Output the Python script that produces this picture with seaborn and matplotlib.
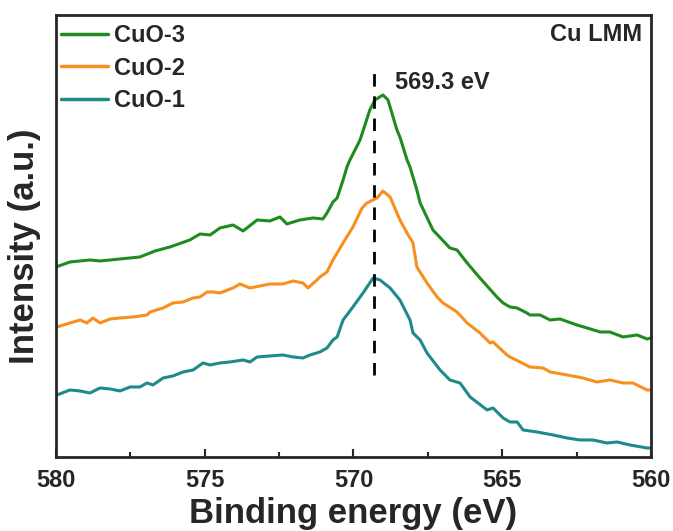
import pandas as pd
import seaborn as sns
import matplotlib.pyplot as plt
from matplotlib.ticker import MultipleLocator

# Cu LMM Auger spectra (binding energy in eV, intensity in a.u.)
energy_cuo3 = [580.00, 579.53, 578.86, 578.52, 578.18, 577.85, 577.51, 577.18, 576.67, 576.17,
               575.50, 575.16, 574.82, 574.49, 574.05, 573.71, 573.24, 572.81, 572.47, 572.24,
               571.80, 571.36, 571.03, 570.89, 570.69, 570.55, 570.35, 570.22, 570.12, 569.78,
               569.45, 569.28, 569.01, 568.84, 568.54, 568.44, 568.20, 568.10, 567.87, 567.76,
               567.33, 566.76, 566.52, 566.18, 565.75, 565.18, 564.97, 564.74, 564.50, 564.17,
               564.07, 563.73, 563.39, 563.06, 562.49, 562.15, 561.71, 561.38, 560.94, 560.47,
               560.13, 560.00]
int_cuo3 = [190, 195, 197, 196, 197, 198, 199, 200, 206, 210,
            217, 223, 222, 229, 232, 226, 237, 236, 240, 233,
            237, 239, 238, 244, 255, 259, 277, 290, 297, 317,
            347, 357, 362, 357, 327, 320, 297, 290, 267, 254,
            227, 209, 207, 194, 179, 160, 154, 150, 149, 144,
            142, 142, 137, 138, 132, 129, 125, 125, 120, 122,
            118, 119]

energy_cuo2 = [579.97, 579.53, 579.19, 578.96, 578.76, 578.52, 578.18, 577.85, 577.41, 576.94,
               576.84, 576.40, 576.07, 575.73, 575.39, 575.16, 574.92, 574.72, 574.49, 574.05,
               573.82, 573.48, 573.14, 572.81, 572.37, 572.03, 571.70, 571.53, 571.23, 571.13,
               570.89, 570.69, 570.35, 570.02, 569.71, 569.55, 569.21, 569.01, 568.77, 568.54,
               568.44, 568.20, 568.00, 567.87, 567.53, 567.19, 566.99, 566.52, 566.18, 565.75,
               565.41, 565.31, 564.84, 564.74, 564.40, 564.07, 563.63, 563.39, 562.82, 562.29,
               561.82, 561.38, 560.94, 560.61, 560.13, 560.00]
int_cuo2 = [130, 134, 137, 134, 139, 134, 138, 139, 140, 142,
            145, 149, 154, 155, 159, 160, 165, 165, 164, 169,
            173, 169, 171, 173, 173, 176, 174, 169, 177, 180,
            185, 197, 214, 230, 249, 254, 259, 266, 260, 244,
            237, 224, 214, 190, 174, 160, 154, 145, 134, 124,
            114, 115, 102, 100, 95, 90, 89, 85, 82, 79,
            75, 77, 74, 74, 67, 67]

energy_cuo1 = [579.97, 579.53, 579.19, 578.86, 578.52, 578.18, 577.85, 577.51, 577.18, 576.94,
               576.74, 576.40, 576.07, 575.73, 575.39, 575.06, 574.82, 574.49, 574.15, 573.71,
               573.48, 573.24, 572.81, 572.37, 572.03, 571.70, 571.46, 571.13, 570.89, 570.69,
               570.55, 570.35, 570.02, 569.68, 569.34, 569.11, 568.77, 568.44, 568.10, 568.00,
               567.76, 567.53, 567.09, 566.76, 566.42, 566.08, 565.51, 565.31, 564.97, 564.74,
               564.50, 564.30, 563.83, 563.29, 562.82, 562.39, 561.95, 561.48, 561.14, 560.71,
               560.13, 560.00]
int_cuo1 = [62, 67, 66, 64, 69, 68, 66, 70, 70, 74,
            72, 79, 81, 85, 87, 94, 92, 94, 95, 97,
            95, 100, 101, 102, 100, 99, 102, 105, 109, 117,
            120, 137, 150, 164, 179, 177, 169, 157, 137, 124,
            117, 104, 87, 77, 74, 60, 47, 49, 39, 35,
            35, 27, 25, 22, 19, 17, 17, 14, 15, 12,
            9, 9]

labels = ['CuO-3', 'CuO-2', 'CuO-1']
colors = ['#1e8c1e', '#f7901e', '#1f8a8a']
peak_ev = 569.3

df = pd.concat([
    pd.DataFrame({'energy': energy_cuo3, 'intensity': int_cuo3, 'sample': 'CuO-3'}),
    pd.DataFrame({'energy': energy_cuo2, 'intensity': int_cuo2, 'sample': 'CuO-2'}),
    pd.DataFrame({'energy': energy_cuo1, 'intensity': int_cuo1, 'sample': 'CuO-1'}),
])

sns.set_style('ticks')
plt.rcParams['font.family'] = ['Liberation Sans', 'DejaVu Sans']
plt.rcParams['font.weight'] = 'bold'

fig = plt.figure(figsize=(6.73, 5.31), dpi=100)
ax = fig.add_axes([0.0832, 0.1394, 0.8841, 0.8324])

sns.lineplot(data=df, x='energy', y='intensity', hue='sample', hue_order=labels,
             palette=colors, linewidth=2.2, ax=ax, legend=True)

# dashed marker at the peak position
ax.plot([peak_ev, peak_ev], [82, 392], color='black', linestyle=(0, (4.5, 3.5)), linewidth=2)
ax.text(568.6, 374, '569.3 eV', fontsize=17, fontweight='bold', va='center', ha='left')
ax.text(0.985, 0.955, 'Cu LMM', transform=ax.transAxes, fontsize=17, fontweight='bold',
        va='center', ha='right')

ax.set_xlim(580, 560)
ax.set_ylim(0, 442)
ax.xaxis.set_major_locator(MultipleLocator(5))
ax.xaxis.set_minor_locator(MultipleLocator(2.5))
ax.tick_params(axis='x', which='major', direction='in', length=6, width=1.5,
               labelsize=17, pad=9)
ax.tick_params(axis='x', which='minor', direction='in', length=3.5, width=1.5)
ax.set_yticks([])
for lbl in ax.get_xticklabels():
    lbl.set_fontweight('bold')
for sp in ax.spines.values():
    sp.set_linewidth(2)

ax.set_xlabel('Binding energy (eV)', fontsize=25, fontweight='bold')
ax.set_ylabel('Intensity (a.u.)', fontsize=25, fontweight='bold')
ax.xaxis.set_label_coords(0.499, -0.09)
ax.yaxis.set_label_coords(-0.025, 0.477)

leg = ax.legend(loc='upper left', bbox_to_anchor=(0.0, 0.99), frameon=False,
                handlelength=2.0, handletextpad=0.25, labelspacing=0.4,
                borderaxespad=0.1, borderpad=0.1,
                prop={'weight': 'bold', 'size': 17})
for line in leg.get_lines():
    line.set_linewidth(2.5)

fig.savefig('out.png', dpi=100)
